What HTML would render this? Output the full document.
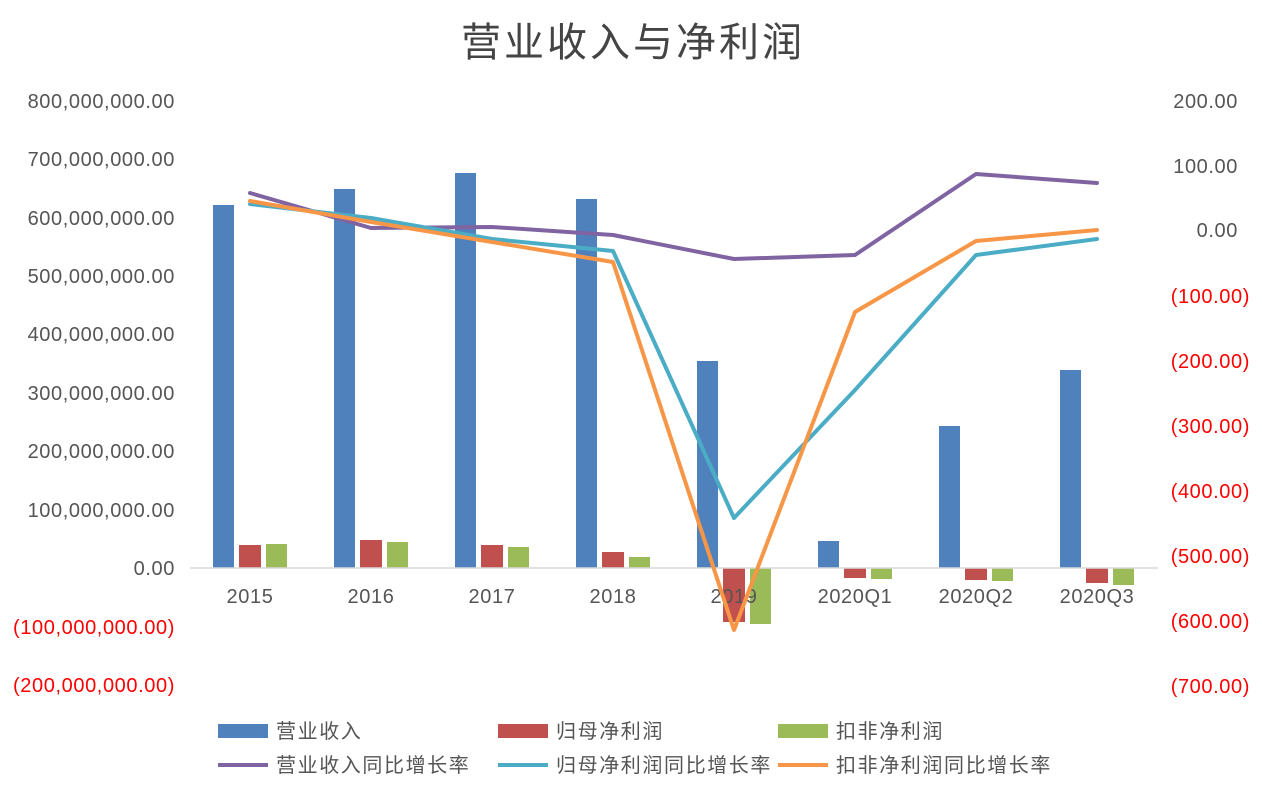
<!DOCTYPE html>
<html><head><meta charset="utf-8"><style>body{margin:0;background:#fff}</style></head>
<body>
<svg width="1262" height="792" xmlns="http://www.w3.org/2000/svg" font-family="'Liberation Sans','Noto Sans CJK SC',sans-serif">
<rect width="1262" height="792" fill="#fff"/>
<text x="633" y="56" text-anchor="middle" font-size="40" letter-spacing="3" fill="#444">营业收入与净利润</text>
<g font-size="20" letter-spacing="0.6" fill="#555" text-anchor="end">
<text x="175" y="108">800,000,000.00</text>
<text x="175" y="166">700,000,000.00</text>
<text x="175" y="225">600,000,000.00</text>
<text x="175" y="283">500,000,000.00</text>
<text x="175" y="341">400,000,000.00</text>
<text x="175" y="400">300,000,000.00</text>
<text x="175" y="458">200,000,000.00</text>
<text x="175" y="517">100,000,000.00</text>
<text x="175" y="575">0.00</text>
<text x="175" y="634" fill="#f00">(100,000,000.00)</text>
<text x="175" y="692" fill="#f00">(200,000,000.00)</text>
</g>
<g font-size="20" letter-spacing="0.6" fill="#555" text-anchor="end">
<text x="1238" y="108">200.00</text>
<text x="1238" y="173">100.00</text>
<text x="1238" y="237">0.00</text>
<g fill="#f00">
<text x="1250" y="303">(100.00)</text>
<text x="1250" y="368">(200.00)</text>
<text x="1250" y="433">(300.00)</text>
<text x="1250" y="498">(400.00)</text>
<text x="1250" y="563">(500.00)</text>
<text x="1250" y="628">(600.00)</text>
<text x="1250" y="693">(700.00)</text>
</g></g>
<g fill="#4f81bd">
<rect x="213" y="205" width="21" height="363"/>
<rect x="334" y="189" width="21" height="379"/>
<rect x="455" y="173" width="21" height="395"/>
<rect x="576" y="199" width="21" height="369"/>
<rect x="697" y="361" width="21" height="207"/>
<rect x="818" y="541" width="21" height="27"/>
<rect x="939" y="426" width="21" height="142"/>
<rect x="1060" y="370" width="21" height="198"/>
</g>
<g fill="#c0504d">
<rect x="239" y="545" width="22" height="23"/>
<rect x="360" y="540" width="22" height="28"/>
<rect x="481" y="545" width="22" height="23"/>
<rect x="602" y="552" width="22" height="16"/>
<rect x="723" y="568" width="22" height="54"/>
<rect x="844" y="568" width="22" height="10"/>
<rect x="965" y="568" width="22" height="12"/>
<rect x="1086" y="568" width="22" height="15"/>
</g>
<g fill="#9bbb59">
<rect x="266" y="544" width="21" height="24"/>
<rect x="387" y="542" width="21" height="26"/>
<rect x="508" y="547" width="21" height="21"/>
<rect x="629" y="557" width="21" height="11"/>
<rect x="750" y="568" width="21" height="56"/>
<rect x="871" y="568" width="21" height="11"/>
<rect x="992" y="568" width="21" height="13"/>
<rect x="1113" y="568" width="21" height="17"/>
</g>
<line x1="190" y1="568" x2="1158" y2="568" stroke="#d9d9d9" stroke-width="1.5"/>
<g font-size="20" letter-spacing="0.6" fill="#555" text-anchor="middle">
<text x="250" y="603">2015</text><text x="371" y="603">2016</text><text x="492" y="603">2017</text><text x="613" y="603">2018</text><text x="734" y="603">2019</text><text x="855" y="603">2020Q1</text><text x="976" y="603">2020Q2</text><text x="1097" y="603">2020Q3</text>
</g>
<g fill="none" stroke-width="4" stroke-linejoin="round" stroke-linecap="round">
<polyline stroke="#8064a2" points="250,193 371,228 492,227 613,235 734,259 855,255 976,174 1097,183"/>
<polyline stroke="#4bacc6" points="250,204 371,218 492,239 613,251 734,518 855,390 976,255 1097,239"/>
<polyline stroke="#f79646" points="250,201 371,222 492,242 613,262 734,630 855,312 976,241 1097,230"/>
</g>
<g font-size="20" letter-spacing="1.6" fill="#555">
<rect x="218" y="724" width="50" height="14" fill="#4f81bd"/><text x="276" y="738">营业收入</text>
<rect x="498" y="724" width="50" height="14" fill="#c0504d"/><text x="556" y="738">归母净利润</text>
<rect x="778" y="724" width="50" height="14" fill="#9bbb59"/><text x="836" y="738">扣非净利润</text>
<line x1="218" y1="765" x2="268" y2="765" stroke="#8064a2" stroke-width="4"/><text x="276" y="772">营业收入同比增长率</text>
<line x1="498" y1="765" x2="548" y2="765" stroke="#4bacc6" stroke-width="4"/><text x="556" y="772">归母净利润同比增长率</text>
<line x1="778" y1="765" x2="828" y2="765" stroke="#f79646" stroke-width="4"/><text x="836" y="772">扣非净利润同比增长率</text>
</g>
</svg>
</body></html>
